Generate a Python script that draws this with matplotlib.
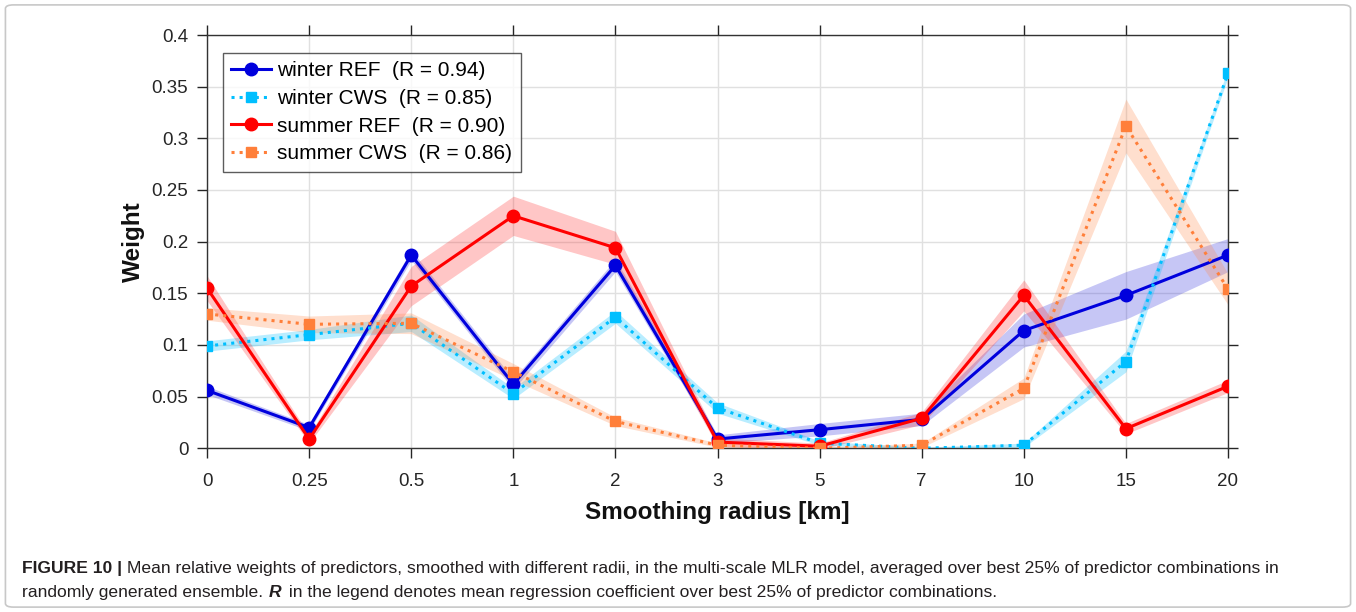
import matplotlib
matplotlib.use("Agg")
import matplotlib.pyplot as plt
from matplotlib.patches import FancyBboxPatch
import numpy as np

plt.rcParams['font.family'] = ['Liberation Sans', 'DejaVu Sans']

radii = ['0', '0.25', '0.5', '1', '2', '3', '5', '7', '10', '15', '20']

winter_ref = [0.056, 0.020, 0.187, 0.062, 0.177, 0.009, 0.018, 0.028, 0.114, 0.148, 0.187]
winter_ref_err = [0.004, 0.003, 0.005, 0.005, 0.006, 0.004, 0.006, 0.006, 0.016, 0.023, 0.016]
winter_cws = [0.099, 0.110, 0.121, 0.053, 0.127, 0.039, 0.005, 0.0, 0.003, 0.084, 0.363]
winter_cws_err = [0.005, 0.005, 0.008, 0.005, 0.006, 0.005, 0.002, 0.001, 0.002, 0.010, 0.004]
summer_ref = [0.155, 0.009, 0.157, 0.225, 0.194, 0.006, 0.002, 0.029, 0.148, 0.019, 0.060]
summer_ref_err = [0.012, 0.004, 0.019, 0.019, 0.016, 0.004, 0.003, 0.006, 0.015, 0.005, 0.006]
summer_cws = [0.130, 0.120, 0.121, 0.074, 0.026, 0.003, 0.0, 0.003, 0.058, 0.312, 0.154]
summer_cws_err = [0.006, 0.008, 0.010, 0.008, 0.004, 0.002, 0.001, 0.002, 0.010, 0.026, 0.015]

labels = ['winter REF  (R = 0.94)', 'winter CWS  (R = 0.85)',
          'summer REF  (R = 0.90)', 'summer CWS  (R = 0.86)']

x = np.arange(len(radii))

fig = plt.figure(figsize=(13.56, 6.12), dpi=100)
fig.patches.append(FancyBboxPatch((0.004, 0.008), 0.992, 0.984, boxstyle="round,pad=0,rounding_size=0.006",
                                  transform=fig.transFigure, facecolor='none', edgecolor='#c8c8c8',
                                  lw=1.2, zorder=-5))
ax = fig.add_axes([0.1527, 0.2675, 0.7529, 0.6753])

series = [
    (winter_ref, winter_ref_err, '#0000dd', '#3333dd', '-', 'o', 9),
    (winter_cws, winter_cws_err, '#00bfff', '#00bfff', ':', 's', 7.3),
    (summer_ref, summer_ref_err, '#ff0000', '#ff3333', '-', 'o', 9),
    (summer_cws, summer_cws_err, '#ff7f3a', '#ff8c50', ':', 's', 7.3),
]

for vals, err, c, bc, ls, m, ms in series:
    v = np.array(vals)
    e = np.array(err)
    ax.fill_between(x, v - e, v + e, color=bc, alpha=0.28, lw=0, zorder=1)

for (vals, err, c, bc, ls, m, ms), lab in zip(series, labels):
    ax.plot(x, vals, color=c, ls=ls, lw=2.2, marker=m, ms=ms, mfc=c, mec=c, label=lab, zorder=3)

ax.set_xlim(0, 10)
ax.set_ylim(0, 0.4)
ax.set_xticks(x)
ax.set_xticklabels(radii)
ax.set_yticks(np.arange(0, 0.401, 0.05))
ax.set_yticklabels(['0', '0.05', '0.1', '0.15', '0.2', '0.25', '0.3', '0.35', '0.4'])
ax.tick_params(labelsize=13.5, direction='out', length=7, width=1, colors='#262626',
               top=True, right=True, pad=6.5)
ax.tick_params(axis='x', pad=11)
for s in ax.spines.values():
    s.set_color('#333333')
    s.set_linewidth(1)
ax.grid(True, color='#e0e0e0', lw=1)
ax.set_axisbelow(True)

ax.set_xlabel('Smoothing radius [km]', fontsize=17.5, fontweight='bold', labelpad=8, color='#111111')
ax.set_ylabel('Weight', fontsize=17.5, fontweight='bold', labelpad=5, color='#111111')

leg = ax.legend(loc='upper left', bbox_to_anchor=(0.0157, 0.957), fontsize=15, frameon=True,
                fancybox=False, edgecolor='#333333', handlelength=1.9, borderpad=0.4,
                labelspacing=0.42, handletextpad=0.3, borderaxespad=0)
leg.get_frame().set_linewidth(1)

# caption
fig.canvas.draw()
r = fig.canvas.get_renderer()
inv = fig.transFigure.inverted()


def put(xf, yf, s, **kw):
    t = fig.text(xf, yf, s, fontsize=12.6, color='#231f20', va='baseline', **kw)
    bb = t.get_window_extent(renderer=r)
    return inv.transform((bb.x1, bb.y0))[0]


y1 = 1 - 573 / 612
y2 = 1 - 597 / 612
xx = put(0.0165, y1, 'FIGURE 10 |', fontweight='bold')
put(xx + 0.003, y1, 'Mean relative weights of predictors, smoothed with different radii, in the multi-scale MLR model, '
    'averaged over best 25% of predictor combinations in')
xx = put(0.0165, y2, 'randomly generated ensemble. ')
xx = put(xx, y2, 'R', fontweight='bold', fontstyle='italic')
put(xx + 0.002, y2, ' in the legend denotes mean regression coefficient over best 25% of predictor combinations.')

fig.savefig('out.png', dpi=100)
